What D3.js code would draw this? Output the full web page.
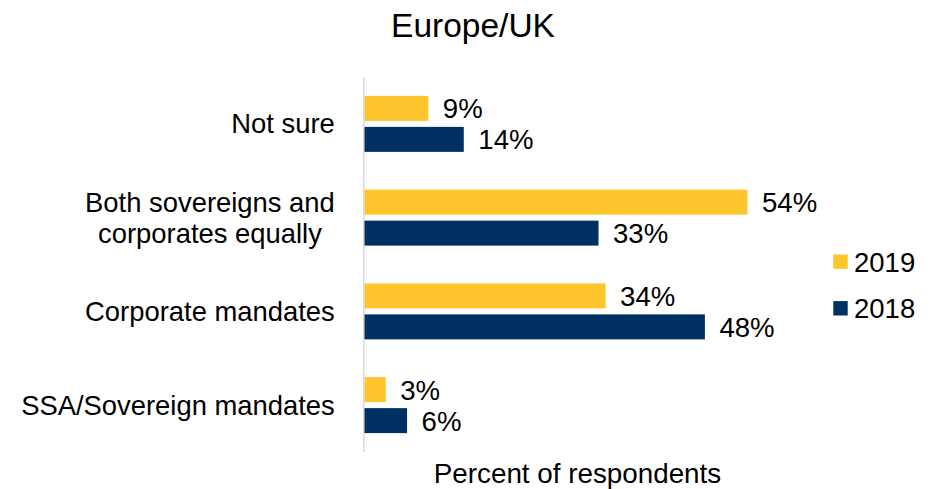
<!DOCTYPE html>
<html>
<head>
<meta charset="utf-8">
<script src="https://cdn.jsdelivr.net/npm/d3@7"></script>
<style>
  html, body { margin: 0; padding: 0; background: #fff; }
  svg { display: block; font-family: "Liberation Sans", Arial, Helvetica, sans-serif; }
</style>
</head>
<body>
<svg id="chart" width="936" height="489"></svg>
<script>
// Survey responses by mandate type, Europe/UK region
const categories = ["Not sure", "Both sovereigns and\ncorporates equally", "Corporate mandates", "SSA/Sovereign mandates"];
const seriesNames = ["2019", "2018"];
const values2019 = [9, 54, 34, 3];
const values2018 = [14, 33, 48, 6];
const colors = { "2019": "#FFC52D", "2018": "#003063" };

const svg = d3.select("#chart");

// Scales
const x = d3.scaleLinear().domain([0, 60]).range([364.5, 790]);
const y0 = d3.scaleBand().domain(categories).range([77, 452]).paddingInner(0).paddingOuter(0);
const y1 = d3.scaleBand().domain(seriesNames).range([0, y0.bandwidth()])
  .paddingInner(0.1935).paddingOuter(0.609);

const rows = categories.map((c, i) => ({
  category: c,
  bars: [
    { key: "2019", value: values2019[i] },
    { key: "2018", value: values2018[i] }
  ]
}));

// Title
svg.append("text")
  .attr("x", 473).attr("y", 37)
  .attr("text-anchor", "middle")
  .style("font-size", "33.5px").style("fill", "#000")
  .text("Europe/UK");

// Category axis line
svg.append("line")
  .attr("x1", 363.75).attr("x2", 363.75)
  .attr("y1", y0.range()[0]).attr("y2", y0.range()[1])
  .attr("stroke", "#d9d9d9").attr("stroke-width", 1.5);

// Bars
const groups = svg.selectAll("g.cat").data(rows).join("g")
  .attr("class", "cat")
  .attr("transform", d => `translate(0,${y0(d.category)})`);

groups.selectAll("rect").data(d => d.bars).join("rect")
  .attr("x", x(0))
  .attr("y", d => y1(d.key))
  .attr("width", d => x(d.value) - x(0))
  .attr("height", y1.bandwidth())
  .attr("fill", d => colors[d.key]);

// Value labels
groups.selectAll("text.val").data(d => d.bars).join("text")
  .attr("class", "val")
  .attr("x", d => x(d.value) + 14.5)
  .attr("y", d => y1(d.key) + y1.bandwidth() / 2)
  .attr("dy", "0.36em")
  .style("font-size", "27.6px").style("fill", "#000")
  .text(d => d.value + "%");

// Category labels (multi-line labels are centred as a block, right-aligned to the axis)
const labelRight = 334.8;
const lineH = 31;
categories.forEach(c => {
  const lines = c.split("\n");
  const cy = y0(c) + y0.bandwidth() / 2;
  const t = svg.append("text")
    .attr("text-anchor", "middle")
    .style("font-size", "27.4px").style("fill", "#000");
  const spans = lines.map((ln, i) => t.append("tspan")
    .attr("y", cy + (i - (lines.length - 1) / 2) * lineH)
    .attr("dy", "0.35em")
    .text(ln));
  const maxW = d3.max(spans, s => s.node().getComputedTextLength());
  spans.forEach(s => s.attr("x", labelRight - maxW / 2));
});

// Legend
const legendY = [261.7, 308.3];
seriesNames.forEach((k, i) => {
  svg.append("rect")
    .attr("x", 833.3).attr("y", legendY[i] - 7.2)
    .attr("width", 14.4).attr("height", 14.4)
    .attr("fill", colors[k]);
  svg.append("text")
    .attr("x", 854).attr("y", legendY[i])
    .attr("dy", "0.36em")
    .style("font-size", "27.5px").style("fill", "#000")
    .text(k);
});

// Axis title
svg.append("text")
  .attr("x", 577.5).attr("y", 483)
  .attr("text-anchor", "middle")
  .style("font-size", "27.8px").style("fill", "#000")
  .text("Percent of respondents");
</script>
</body>
</html>
